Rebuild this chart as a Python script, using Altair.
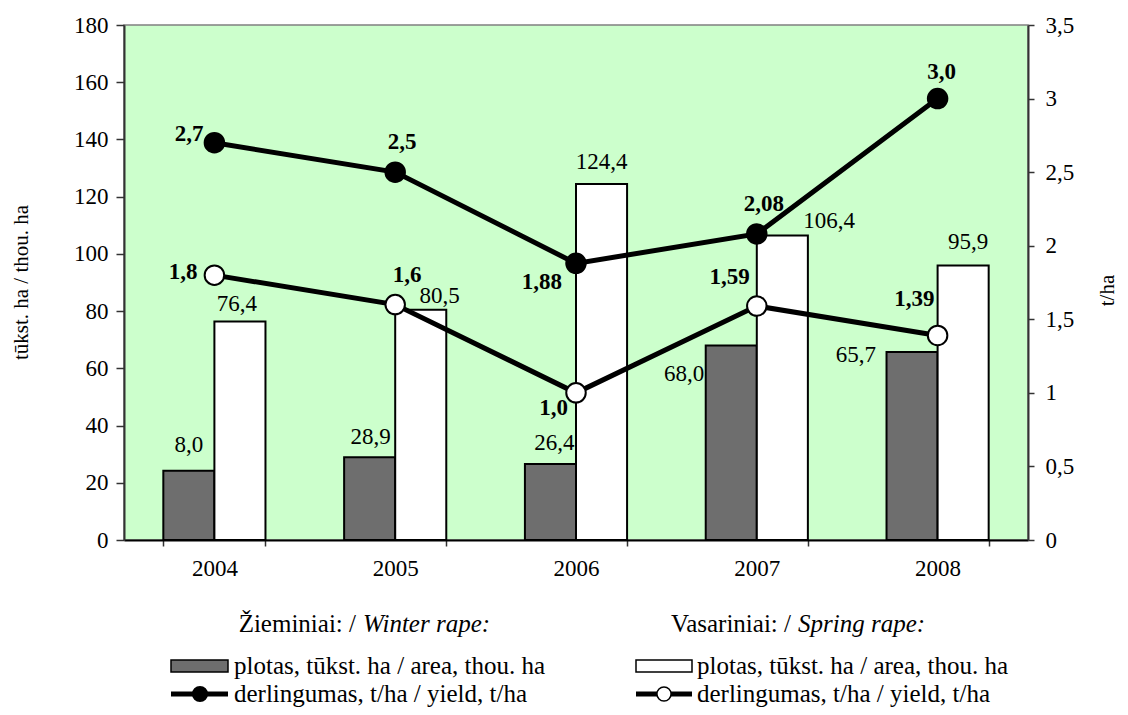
import altair as alt
import pandas as pd

# ---------------- data ----------------
years = ["2004", "2005", "2006", "2007", "2008"]
winter_area = [24.2, 28.9, 26.6, 68.0, 65.7]
winter_area_labels = ["8,0", "28,9", "26,4", "68,0", "65,7"]
spring_area = [76.4, 80.5, 124.4, 106.4, 95.9]
spring_area_labels = ["76,4", "80,5", "124,4", "106,4", "95,9"]
winter_yield = [2.7, 2.5, 1.88, 2.08, 3.0]
winter_yield_labels = ["2,7", "2,5", "1,88", "2,08", "3,0"]
spring_yield = [1.8, 1.6, 1.0, 1.59, 1.39]
spring_yield_labels = ["1,8", "1,6", "1,0", "1,59", "1,39"]

series_names = ["winter", "spring"]

area_df = pd.DataFrame({
    "year": years * 2,
    "series": ["winter"] * 5 + ["spring"] * 5,
    "value": winter_area + spring_area,
    "label": winter_area_labels + spring_area_labels,
})
yield_df = pd.DataFrame({
    "year": years * 2,
    "series": ["winter"] * 5 + ["spring"] * 5,
    "value": winter_yield + spring_yield,
    "label": winter_yield_labels + spring_yield_labels,
})

FONT = "Times New Roman, Liberation Serif, serif"
TICK_FS = 23
LAB_FS = 23
LEG_FS = 25
W, H = 904, 515
PL, PT = 116, 17  # padding so that plot area starts at (124, 25) on the page

x_scale = alt.Scale(domain=years, paddingInner=0.435, paddingOuter=0.2175)
x_axis = alt.Axis(title=None, labelFont=FONT, labelFontSize=TICK_FS, labelColor="black",
                  labelPadding=11, tickSize=6, tickBand="extent", tickColor="#333333",
                  tickWidth=1.5, domainColor="black", domainWidth=2, labelAngle=0)
x_enc = alt.X("year:N", scale=x_scale, axis=x_axis)
xoff_enc = alt.XOffset("series:N", scale=alt.Scale(domain=series_names, paddingInner=0, paddingOuter=0))

y_left = alt.Y("value:Q", scale=alt.Scale(domain=[0, 180], nice=False),
               axis=alt.Axis(values=list(range(0, 181, 20)), title="tūkst. ha / thou. ha",
                             titleFont=FONT, titleFontSize=21, titleFontWeight="normal",
                             titleColor="black", titleAngle=-90, titleX=-93, titleY=257,
                             titleAlign="center", titleBaseline="bottom",
                             labelFont=FONT, labelFontSize=TICK_FS, labelColor="black",
                             labelPadding=8, tickSize=8, tickColor="#333333", tickWidth=1.5,
                             domainColor="#333333", domainWidth=2, grid=False))

y_right = alt.Y("value:Q", scale=alt.Scale(domain=[0, 3.5], nice=False),
                axis=alt.Axis(orient="right", values=[0, 0.5, 1, 1.5, 2, 2.5, 3, 3.5],
                              labelExpr="replace(format(datum.value, '~g'), '.', ',')",
                              title="t/ha", titleFont=FONT, titleFontSize=21,
                              titleFontWeight="normal", titleColor="black",
                              titleAngle=-90, titleX=89, titleY=265,
                              titleAlign="center", titleBaseline="bottom",
                              labelFont=FONT, labelFontSize=TICK_FS, labelColor="black",
                              labelPadding=11, tickSize=6, tickColor="#333333", tickWidth=1.5,
                              domainColor="#333333", domainWidth=2, grid=False))

# ---------------- bars ----------------
bars = alt.Chart(area_df).mark_bar(stroke="black", strokeWidth=2).encode(
    x=x_enc,
    xOffset=xoff_enc,
    y=y_left,
    fill=alt.Fill("series:N", scale=alt.Scale(domain=series_names, range=["#6e6e6e", "#ffffff"]),
                  legend=None),
)

# label placement (dx, dy, align) per bar label, in order: winter 2004..2008, spring 2004..2008
bar_label_place = [
    (0, -26, "center"), (1, -20, "center"), (4, -21, "center"), (-27, 29, "right"), (-36, 3, "right"),
    (-3, -17, "center"), (19, -14, "center"), (0, -22, "center"), (21, -15, "left"), (5, -24, "center"),
]
bar_texts = []
for i, (dx, dy, al) in enumerate(bar_label_place):
    s = "winter" if i < 5 else "spring"
    yr = years[i % 5]
    bar_texts.append(
        alt.Chart(area_df).mark_text(font=FONT, fontSize=LAB_FS, color="black", dx=dx, dy=dy,
                                     align=al, baseline="middle").encode(
            x=x_enc, xOffset=xoff_enc, y=y_left, text="label:N"
        ).transform_filter((alt.datum.series == s) & (alt.datum.year == yr))
    )

bars_layer = alt.layer(bars, *bar_texts)

# ---------------- lines ----------------
x_line = alt.X("year:N", scale=x_scale, axis=x_axis, bandPosition=0.5)
lines = alt.Chart(yield_df).mark_line(color="black", strokeWidth=5).encode(
    x=x_line, y=y_right, detail="series:N"
)
points = alt.Chart(yield_df).mark_point(filled=True, shape="circle", size=380, stroke="black",
                                         strokeWidth=2, opacity=1).encode(
    x=x_line, y=y_right,
    fill=alt.Fill("series:N", scale=alt.Scale(domain=series_names, range=["black", "white"]),
                  legend=None),
)
yield_label_place = [
    (-11, -9, "right"), (7, -30, "center"), (-14, 19, "right"), (7, -30, "center"), (4, -27, "center"),
    (-17, -3, "right"), (12, -30, "center"), (-8, 15, "right"), (-7, -29, "right"), (-3, -36, "right"),
]
yield_texts = []
for i, (dx, dy, al) in enumerate(yield_label_place):
    s = "winter" if i < 5 else "spring"
    yr = years[i % 5]
    yield_texts.append(
        alt.Chart(yield_df).mark_text(font=FONT, fontSize=LAB_FS, fontWeight="bold", color="black",
                                      dx=dx, dy=dy, align=al, baseline="middle").encode(
            x=x_line, y=y_right, text="label:N"
        ).transform_filter((alt.datum.series == s) & (alt.datum.year == yr))
    )

lines_layer = alt.layer(lines, points, *yield_texts)

# ---------------- custom legend (below the plot) ----------------
one = pd.DataFrame({"k": [0]})


def px(xa):
    return alt.value(xa - 124)


def py(ya):
    return alt.value(ya - 25)


def txt(s, xa, ya, align="left", style="normal"):
    return alt.Chart(one).mark_text(text=s, font=FONT, fontSize=LEG_FS, color="black", align=align,
                                    baseline="middle", fontStyle=style).encode(x=px(xa), y=py(ya))


TY, R1, R2 = 624, 666, 694
deco = [
    txt("Žieminiai: /", 356, TY, align="right"),
    txt("Winter rape:", 363, TY, style="italic"),
    txt("Vasariniai: /", 791, TY, align="right"),
    txt("Spring rape:", 798, TY, style="italic"),
    # row 1: area swatches
    alt.Chart(one).mark_rect(fill="#6e6e6e", stroke="black", strokeWidth=1.5).encode(
        x=px(171), x2=px(228), y=py(R1 - 6), y2=py(R1 + 6)),
    txt("plotas, tūkst. ha / area, thou. ha", 234, R1),
    alt.Chart(one).mark_rect(fill="white", stroke="black", strokeWidth=1.5).encode(
        x=px(636), x2=px(692), y=py(R1 - 6), y2=py(R1 + 6)),
    txt("plotas, tūkst. ha / area, thou. ha", 697, R1),
    # row 2: yield swatches
    alt.Chart(one).mark_rule(color="black", strokeWidth=5).encode(
        x=px(171), x2=px(228), y=py(R2)),
    alt.Chart(one).mark_point(filled=True, shape="circle", size=200, fill="black",
                              stroke="black", opacity=1).encode(x=px(200), y=py(R2)),
    txt("derlingumas, t/ha / yield, t/ha", 234, R2),
    alt.Chart(one).mark_rule(color="black", strokeWidth=5).encode(
        x=px(636), x2=px(692), y=py(R2)),
    alt.Chart(one).mark_point(filled=True, shape="circle", size=200, fill="white",
                              stroke="black", strokeWidth=1.5, opacity=1).encode(x=px(664), y=py(R2)),
    txt("derlingumas, t/ha / yield, t/ha", 697, R2),
]

chart = alt.layer(bars_layer, lines_layer, *deco).resolve_scale(
    y="independent", fill="independent"
).properties(
    width=W, height=H,
    autosize=alt.AutoSizeParams(type="none"),
    padding={"left": PL, "top": PT, "right": 92, "bottom": 167},
    background="white",
).configure_view(
    fill="#CCFFCC", stroke="#808080", strokeWidth=1.5
)

chart.save("out.html", embed_options={"renderer": "svg", "actions": False})
